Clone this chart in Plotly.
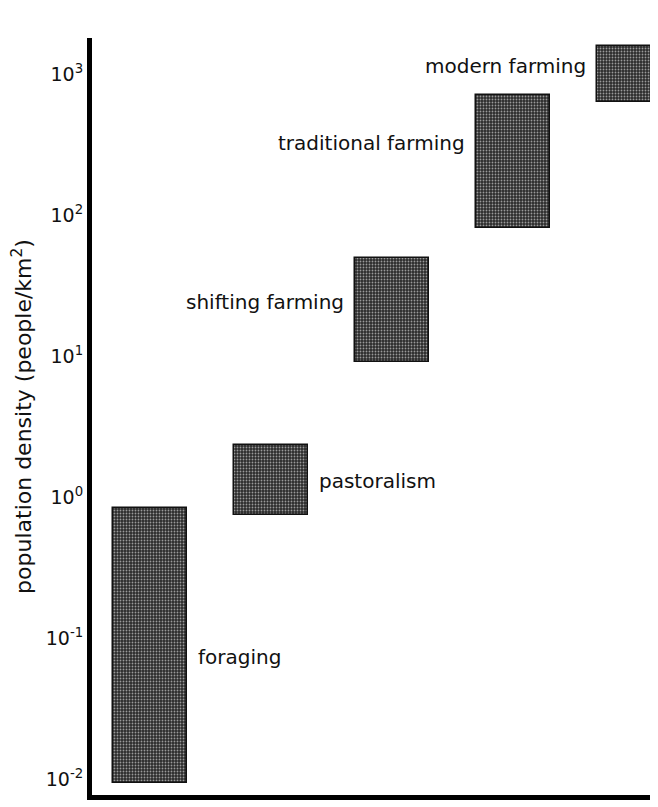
import numpy as np
import plotly.graph_objects as go

# ---- data ----
categories = ["foraging", "pastoralism", "shifting farming", "traditional farming", "modern farming"]
density_low = [0.0094, 0.745, 9.1, 81, 632]      # people/km², lower end of range
density_high = [0.84, 2.34, 49.5, 710, 1580]     # people/km², upper end of range
tick_values = [0.01, 0.1, 1, 10, 100, 1000]
tick_labels = ["10<sup>-2</sup>", "10<sup>-1</sup>", "10<sup>0</sup>", "10<sup>1</sup>",
               "10<sup>2</sup>", "10<sup>3</sup>"]

# ---- styling / placement ----
FONT = "DejaVu Sans"
label_side = ["right", "right", "left", "left", "left"]
label_yshift = [-12, -1, 8, 18, 8]      # px (positive = up)
label_gap = 9                            # px
bar_width = 0.61

xs = list(range(len(categories)))
heights = [h - l for h, l in zip(density_high, density_low)]

fig = go.Figure()
fig.add_trace(go.Bar(
    x=xs, y=heights, base=density_low, width=bar_width,
    marker=dict(
        color="#2b2b2b",
        line=dict(color="#111111", width=1.5),
        pattern=dict(shape=".", fgcolor="#9a9a9a", bgcolor="#2b2b2b",
                     size=3, solidity=0.3, fillmode="replace"),
    ),
    hovertext=categories, showlegend=False,
))

for i, name in enumerate(categories):
    mid = (np.log10(density_low[i]) + np.log10(density_high[i])) / 2
    if label_side[i] == "right":
        ax, anchor, shift = i + bar_width / 2, "left", label_gap
    else:
        ax, anchor, shift = i - bar_width / 2, "right", -label_gap
    fig.add_annotation(x=ax, y=mid, text=name, showarrow=False, xanchor=anchor,
                       yanchor="middle", xshift=shift, yshift=label_yshift[i],
                       font=dict(family=FONT, size=20, color="#111111"))

# page body has an 8px margin: figure is shrunk/shifted to compensate
fig.update_layout(
    width=650, height=799,
    margin=dict(l=84, r=0, t=30, b=12),
    paper_bgcolor="white", plot_bgcolor="white",
    bargap=0,
    font=dict(family=FONT, color="#111111"),
)
fig.update_xaxes(range=[-0.479, 4.198], showticklabels=False, ticks="",
                 showgrid=False, zeroline=False, showline=True,
                 linecolor="black", linewidth=5)
fig.update_yaxes(type="log", range=[-2.113, 3.255], tickvals=tick_values,
                 ticktext=tick_labels, ticks="", showgrid=False, zeroline=False,
                 showline=True, linecolor="black", linewidth=5,
                 tickfont=dict(family=FONT, size=19, color="#111111"),
                 title=dict(text="population density (people/km<sup>2</sup>)",
                            font=dict(family=FONT, size=22, color="#111111"),
                            standoff=10))

fig.write_html("out.html")
